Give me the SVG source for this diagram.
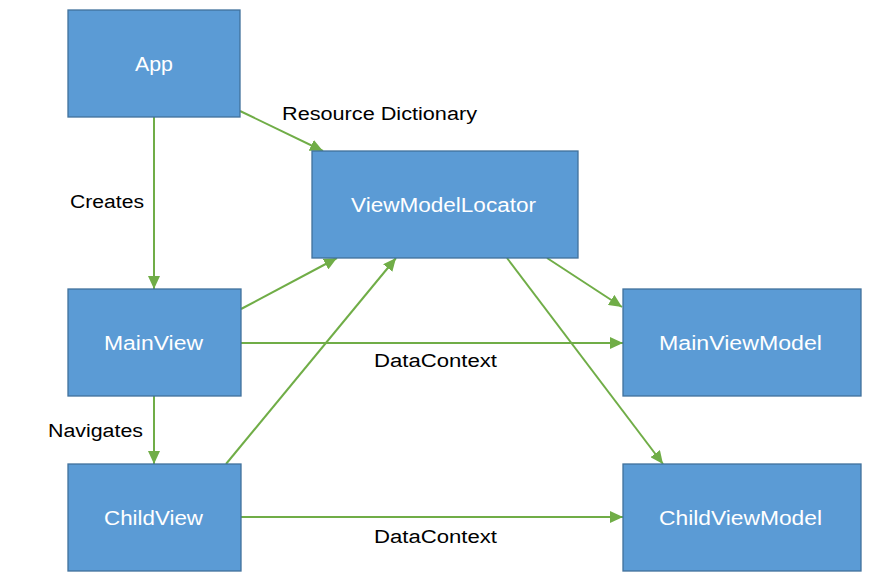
<svg xmlns="http://www.w3.org/2000/svg" width="871" height="582" viewBox="0 0 871 582">
<defs>
<style>
.node rect{fill:#5B9BD5;stroke:#41719C;stroke-width:1.3}
.node text{fill:#fff;font-family:"Liberation Sans",Arial,sans-serif;font-size:20px}
.edge{stroke:#70AD47;stroke-width:2;fill:none;marker-end:url(#ah)}
.lbl{fill:#000;font-family:"Liberation Sans",Arial,sans-serif;font-size:18px}
</style>
<marker id="ah" markerUnits="userSpaceOnUse" markerWidth="14" markerHeight="12" viewBox="0 0 14 12" refX="13" refY="6" orient="auto">
<path d="M0,0 L13,6 L0,12 z" fill="#70AD47"/>
</marker>
</defs>
<rect width="871" height="582" fill="#fff"/>
<g id="connectors">
<line class="edge" x1="240" y1="111" x2="323" y2="151"/>
<line class="edge" x1="154" y1="117" x2="154" y2="289"/>
<line class="edge" x1="241" y1="309" x2="337" y2="258"/>
<line class="edge" x1="226" y1="464" x2="396" y2="258"/>
<line class="edge" x1="241" y1="343" x2="623" y2="343"/>
<line class="edge" x1="547" y1="258" x2="622" y2="307"/>
<line class="edge" x1="507" y1="258" x2="663" y2="464"/>
<line class="edge" x1="154" y1="396" x2="154" y2="464"/>
<line class="edge" x1="241" y1="517" x2="623" y2="517"/>
<text class="lbl" x="282" y="120" textLength="195" lengthAdjust="spacingAndGlyphs">Resource Dictionary</text>
<text class="lbl" x="70" y="208" textLength="74" lengthAdjust="spacingAndGlyphs">Creates</text>
<text class="lbl" x="48" y="437" textLength="95" lengthAdjust="spacingAndGlyphs">Navigates</text>
<text class="lbl" x="374" y="367" textLength="123" lengthAdjust="spacingAndGlyphs">DataContext</text>
<text class="lbl" x="374" y="543" textLength="123" lengthAdjust="spacingAndGlyphs">DataContext</text>
</g>
<g id="app" class="node"><rect x="68" y="10" width="172" height="107"/><text x="135" y="71" textLength="38" lengthAdjust="spacingAndGlyphs">App</text></g>
<g id="vml" class="node"><rect x="312" y="151" width="266" height="107"/><text x="351" y="212" textLength="185" lengthAdjust="spacingAndGlyphs">ViewModelLocator</text></g>
<g id="mainview" class="node"><rect x="68" y="289" width="173" height="107"/><text x="104" y="350" textLength="99" lengthAdjust="spacingAndGlyphs">MainView</text></g>
<g id="childview" class="node"><rect x="68" y="464" width="173" height="107"/><text x="104" y="525" textLength="99" lengthAdjust="spacingAndGlyphs">ChildView</text></g>
<g id="mainviewmodel" class="node"><rect x="623" y="289" width="238" height="107"/><text x="659" y="350" textLength="163" lengthAdjust="spacingAndGlyphs">MainViewModel</text></g>
<g id="childviewmodel" class="node"><rect x="623" y="464" width="238" height="107"/><text x="659" y="525" textLength="163" lengthAdjust="spacingAndGlyphs">ChildViewModel</text></g>
</svg>
